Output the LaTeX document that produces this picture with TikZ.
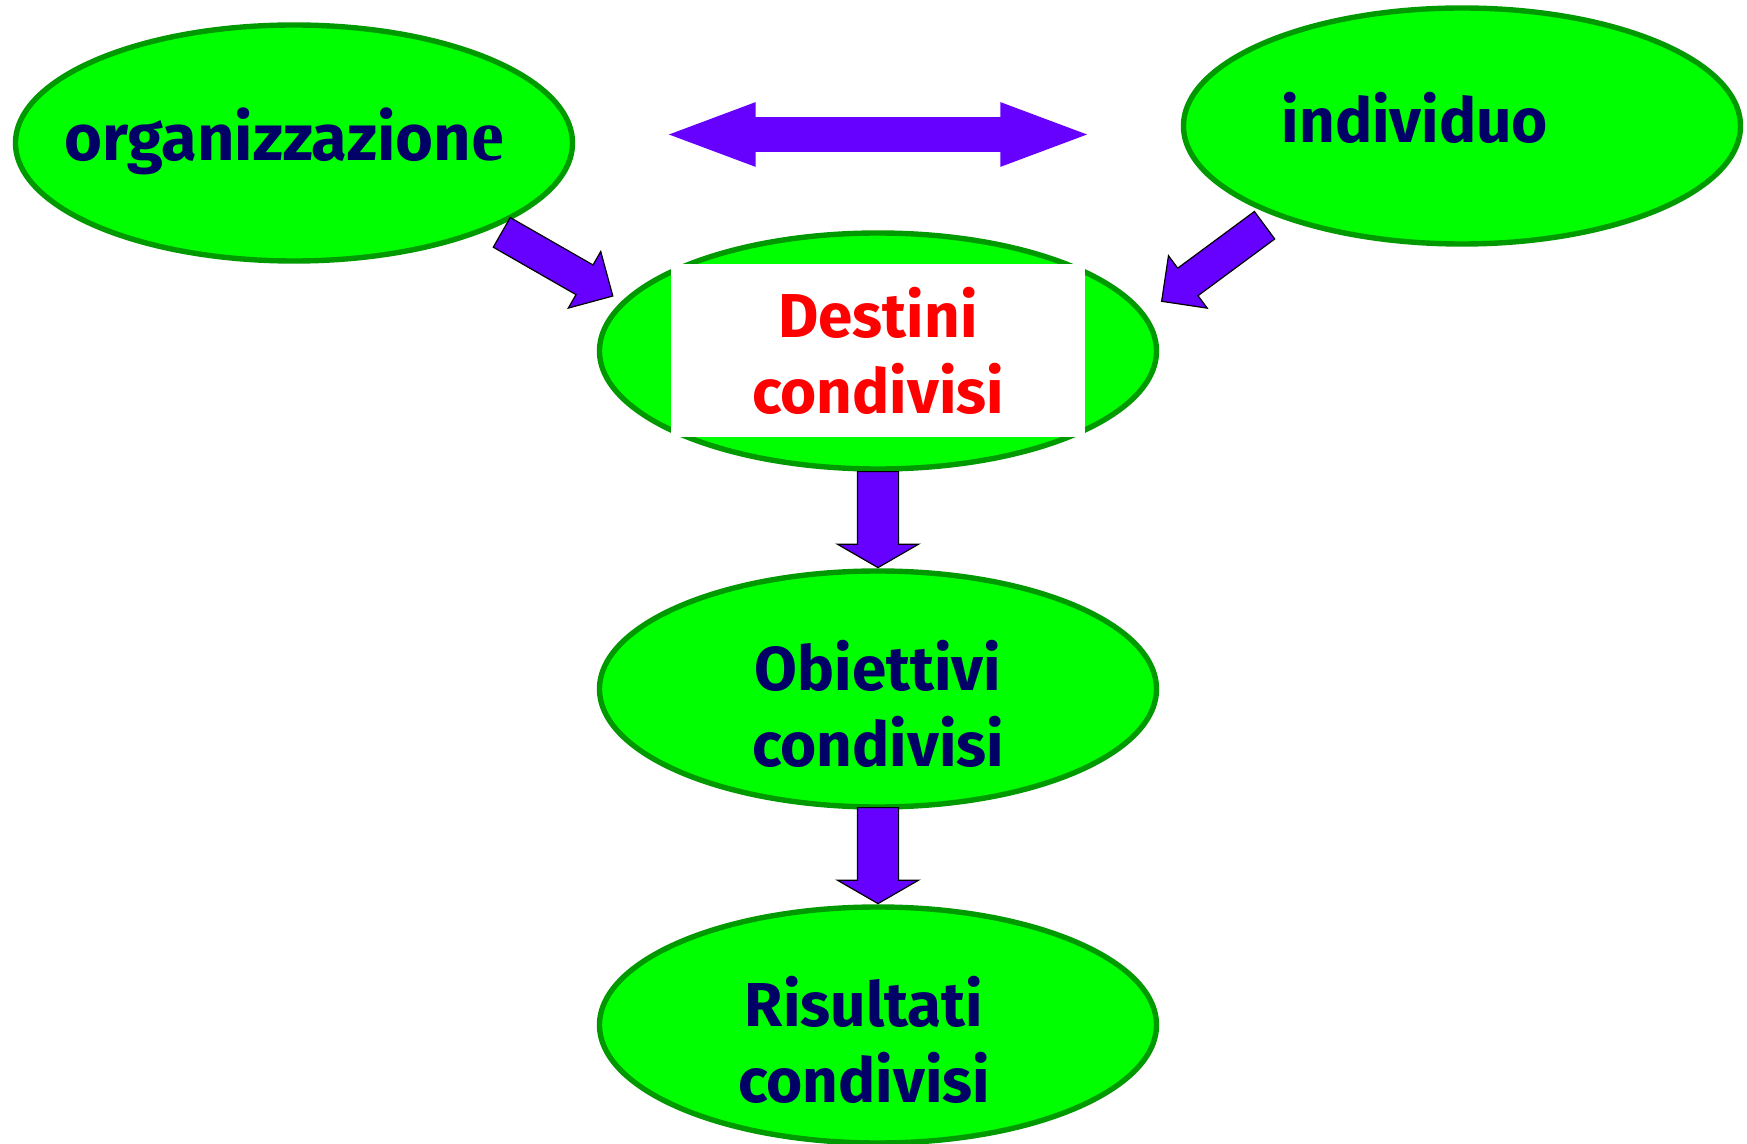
\documentclass[tikz,border=0pt]{standalone}
\usepackage{fontspec}
\setmainfont{Fira Sans}
\newfontfamily\serifbit{Liberation Serif}
\usetikzlibrary{shapes.geometric,shapes.arrows}
\definecolor{ovalfill}{HTML}{00FF00}
\definecolor{ovalline}{HTML}{009900}
\definecolor{navytxt}{HTML}{000066}
\definecolor{arrowfill}{HTML}{6600FF}
\begin{document}
\begin{tikzpicture}[x=0.5pt,y=-0.5pt,
  oval/.style={ellipse,draw=ovalline,fill=ovalfill,line width=2.7pt,minimum width=278.5pt,minimum height=118pt,inner sep=0pt},
  lbl/.style={font=\bfseries\fontsize{31}{38}\selectfont,text=navytxt,align=center,inner sep=0pt},
  blk/.style={single arrow,draw=black,line width=0.6pt,fill=arrowfill,inner xsep=0pt,anchor=tip,sloped,allow upside down},
  slant/.style={blk,minimum height=64pt,inner ysep=8.25pt,single arrow head extend=7.75pt},
  drop/.style={blk,pos=1,minimum height=48pt,inner ysep=10pt,single arrow head extend=10pt,single arrow tip angle=120}]
\useasboundingbox (0,0) rectangle (1747,1144);
% ovals
\node[oval] (org) at (294,143) {};
\node[oval] (ind) at (1462,126) {};
\node[oval] (dest) at (878,351) {};
\node[oval] (obi) at (878,689) {};
\node[oval] (ris) at (878,1025) {};
% texts
\node[lbl,anchor=base,font=\bfseries\fontsize{32.5}{38}\selectfont] (orgtxt) at (284,161) {organizzazion{\serifbit\fontsize{37}{38}\selectfont e}};
\node[lbl,anchor=base] (indtxt) at (1415,143) {individuo};
\node[lbl,text=red,fill=white,minimum width=207pt,minimum height=86.5pt] (desttxt) at (dest) {Destini\\condivisi};
\node[lbl] (obitxt) at (878,704) {Obiettivi\\condivisi};
\node[lbl] (ristxt) at (864,1040) {Risultati\\condivisi};
% arrows
\path (org) -- (ind) node[midway,double arrow,fill=arrowfill,inner xsep=0pt,inner ysep=8.5pt,minimum height=209pt,double arrow head extend=7.5pt,double arrow tip angle=41] (link) {};
\path (org.-23) -- (dest.169) node[slant,pos=0.935] (orgarr) {};
\path (ind.206) -- (dest.8) node[slant,pos=0.88] (indarr) {};
\path (dest.south) -- (obi.north) node[drop] (destarr) {};
\path (obi.south) -- (ris.north) node[drop] (obiarr) {};
\end{tikzpicture}
\end{document}
